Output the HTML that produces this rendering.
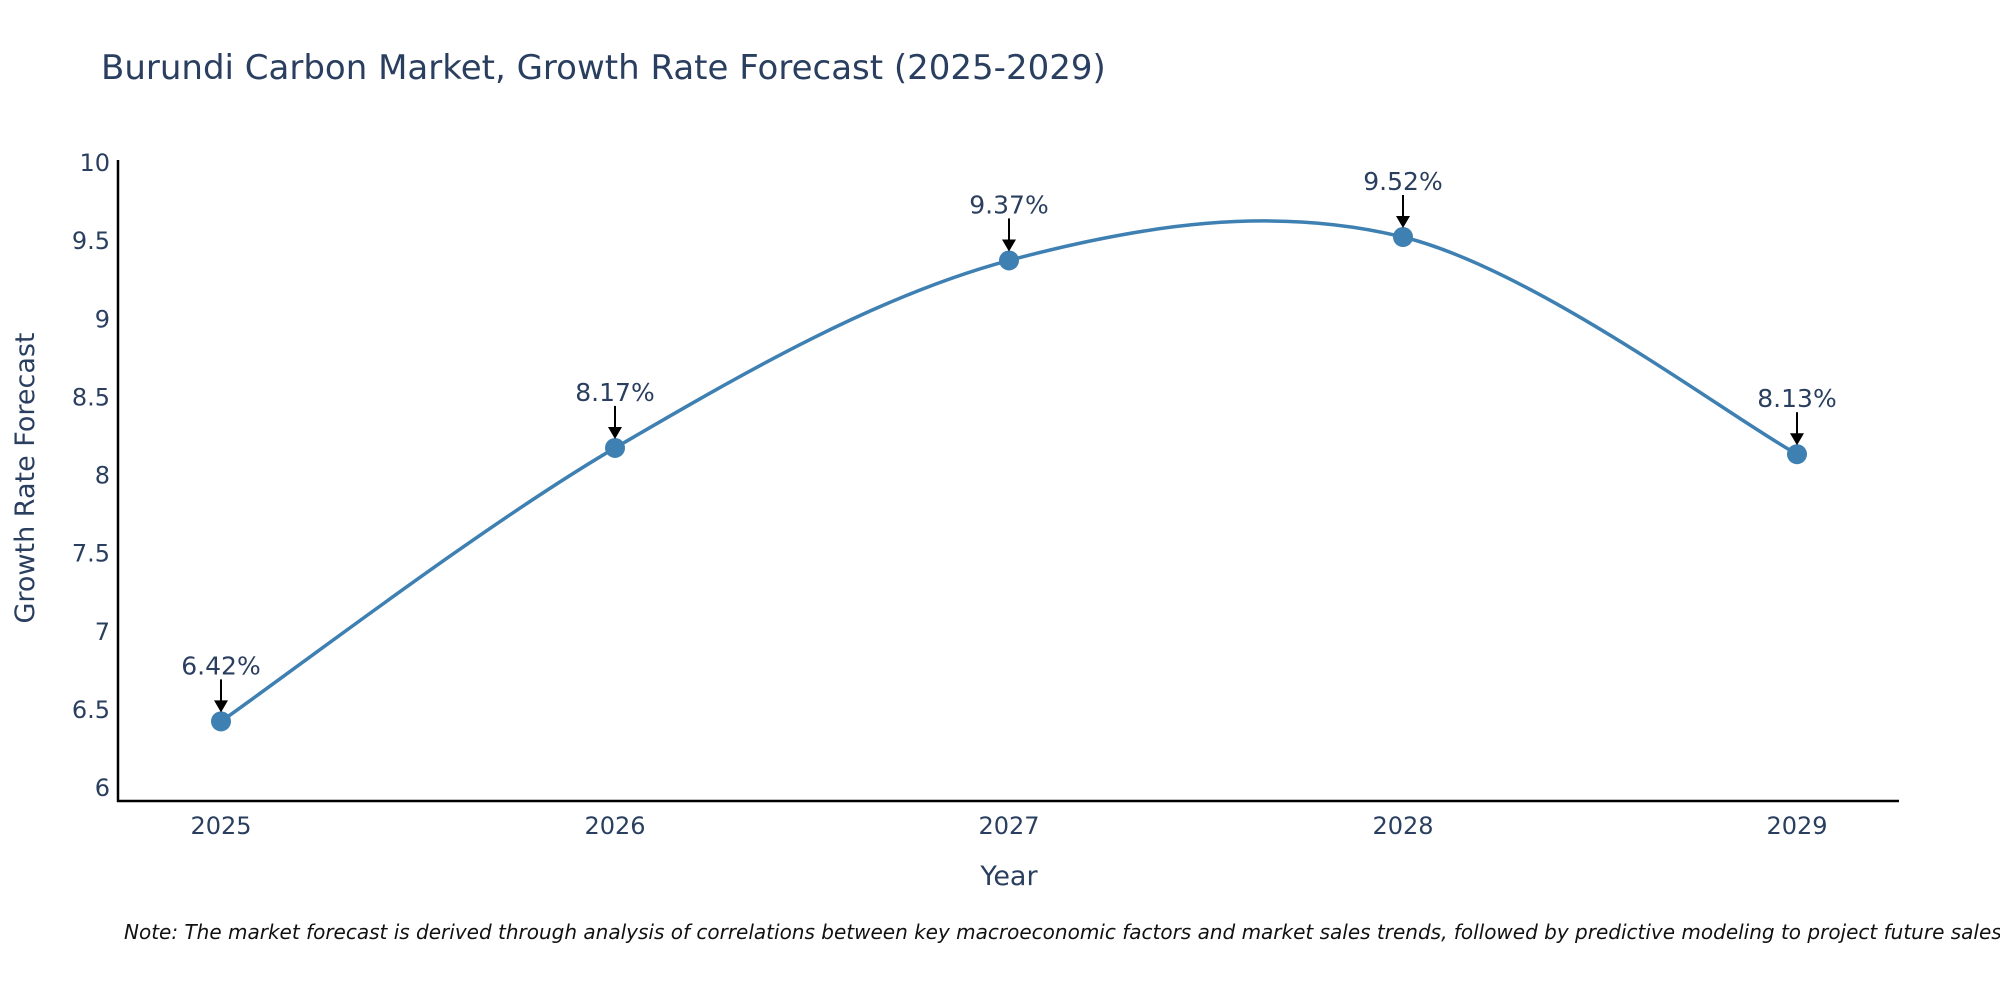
<!DOCTYPE html>
<html><head><meta charset="utf-8">
<style>
html,body{margin:0;padding:0;background:#fff;}
svg{display:block;font-family:"DejaVu Sans","Liberation Sans",sans-serif;}
</style></head>
<body>
<svg id="chart" width="2000" height="1000" viewBox="0 0 2000 1000">
<text x="101" y="79" font-size="34" fill="#2a3f5f">Burundi Carbon Market, Growth Rate Forecast (2025-2029)</text>
<g id="yticks"></g>
<g id="xticks"></g>
<line x1="118" y1="160" x2="118" y2="802" stroke="#000" stroke-width="2.5"/>
<line x1="117" y1="801" x2="1899" y2="801" stroke="#000" stroke-width="2.5"/>
<text transform="translate(34,478) rotate(-90)" text-anchor="middle" font-size="27" fill="#2a3f5f">Growth Rate Forecast</text>
<text x="1009" y="885" text-anchor="middle" font-size="27" fill="#2a3f5f">Year</text>
<g id="series"></g>
<g id="annos"></g>
<text x="124" y="939" font-size="20" font-style="italic" fill="#111">Note: The market forecast is derived through analysis of correlations between key macroeconomic factors and market sales trends, followed by predictive modeling to project future sales.</text>
</svg>
<script>
const years = [2025, 2026, 2027, 2028, 2029];
const growth = [6.42, 8.17, 9.37, 9.52, 8.13];
const labels = ["6.42%", "8.17%", "9.37%", "9.52%", "8.13%"];
const yTickValues = [6, 6.5, 7, 7.5, 8, 8.5, 9, 9.5, 10];
const yTickLabels = ["6", "6.5", "7", "7.5", "8", "8.5", "9", "9.5", "10"];

const NS = "http://www.w3.org/2000/svg";
function xs(v){ return 221 + (v - 2025) * (1797 - 221) / 4; }
function ys(v){ return 787 - (v - 6) * (787 - 162) / 4; }
function mk(tag, attrs, parent){
  const e = document.createElementNS(NS, tag);
  for (const k in attrs) e.setAttribute(k, attrs[k]);
  parent.appendChild(e); return e;
}
const yg = document.getElementById('yticks');
yTickValues.forEach((v,i)=>{
  const t = mk('text',{x:110,y:ys(v)+9,'text-anchor':'end','font-size':24,fill:'#2a3f5f'},yg);
  
  
  t.textContent = yTickLabels[i];
});
const xg = document.getElementById('xticks');
years.forEach(v=>{
  const t = mk('text',{x:xs(v),y:834,'text-anchor':'middle','font-size':24,fill:'#2a3f5f'},xg);
  
  
  t.textContent = String(v);
});
const pts = years.map((y,i)=>[xs(y), ys(growth[i])]);
let d = `M${pts[0][0]},${pts[0][1]}`;
for (let i=0;i<pts.length-1;i++){
  const p0 = pts[i-1]||pts[i], p1=pts[i], p2=pts[i+1], p3=pts[i+2]||pts[i+1];
  const k = 1/6;
  const c1 = [p1[0]+(p2[0]-p0[0])*k, p1[1]+(p2[1]-p0[1])*k];
  const c2 = [p2[0]-(p3[0]-p1[0])*k, p2[1]-(p3[1]-p1[1])*k];
  d += ` C${c1[0]},${c1[1]} ${c2[0]},${c2[1]} ${p2[0]},${p2[1]}`;
}
const sg = document.getElementById('series');
const line = mk('path',{d:d,fill:'none',stroke:'#3f80b3','stroke-width':3.5},sg);


const ag = document.getElementById('annos');
pts.forEach((p,i)=>{
  const c = mk('circle',{cx:p[0],cy:p[1],r:10,fill:'#3f80b3'},sg);
  
  
  const a = mk('line',{x1:p[0],y1:p[1]-42,x2:p[0],y2:p[1]-20,stroke:'#000','stroke-width':2},ag);
  
  
  const h = mk('polygon',{points:`${p[0]-7},${p[1]-21} ${p[0]+7},${p[1]-21} ${p[0]},${p[1]-9}`,fill:'#000'},ag);
  
  
  const t = mk('text',{x:p[0],y:p[1]-47,'text-anchor':'middle','font-size':25,fill:'#2a3f5f'},ag);
  
  
  t.textContent = labels[i];
});
</script>
</body></html>
